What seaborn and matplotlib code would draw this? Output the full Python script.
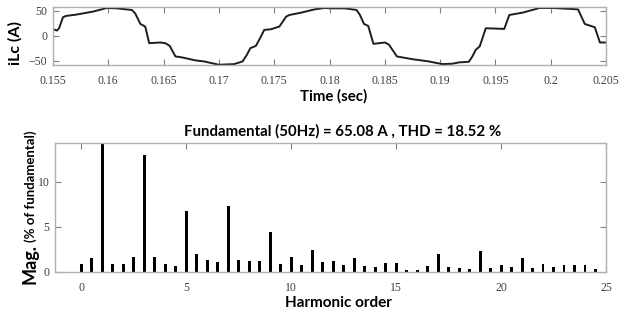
import matplotlib
matplotlib.use("Agg")
import matplotlib.pyplot as plt
import seaborn as sns
import pandas as pd

# ---- data ----
time_ms = [155.0, 155.36, 155.55, 155.9, 156.16, 157.1, 158.6, 159.86, 160.77, 162.13,
           162.43, 162.9, 163.34, 163.7, 164.7, 165.16, 165.55, 166.07, 166.68, 167.9,
           168.65, 170.0, 171.38, 172.14, 172.53, 172.84, 173.35, 173.8, 174.1, 174.7,
           175.47, 176.08, 176.38, 177.45, 178.66, 179.57, 180.18, 181.39, 182.45, 182.75,
           183.12, 183.5, 183.97, 185.03, 185.39, 186.09, 187.46, 188.97, 190.19, 191.1,
           191.7, 192.6, 192.92, 193.22, 193.58, 194.13, 195.8, 196.26, 197.47, 198.99,
           200.2, 202.47, 203.08, 203.99, 204.45, 205.0]
current_A = [13.3, 10.7, 15.3, 37.3, 40.0, 42.7, 48.7, 56.0, 55.3, 52.0,
             45.3, 24.0, 18.7, -14.7, -13.3, -14.7, -20.0, -41.3, -43.3, -49.3,
             -51.3, -58.0, -56.7, -51.3, -38.0, -24.7, -20.0, -1.3, 12.0, 13.3,
             18.7, 38.7, 42.0, 46.7, 53.3, 56.0, 55.3, 55.3, 52.0, 42.0,
             24.0, 20.0, -16.0, -13.3, -18.0, -41.3, -46.7, -51.3, -56.7, -56.0,
             -53.3, -52.0, -41.3, -28.0, -21.3, 15.3, 14.0, 42.0, 46.7, 56.0,
             56.0, 53.3, 24.0, 17.3, -13.3, -13.3]

harmonic_order = [0, 0.5, 1, 1.5, 2, 2.5, 3, 3.5, 4, 4.5, 5, 5.5, 6, 6.5, 7, 7.5, 8, 8.5,
                  9, 9.5, 10, 10.5, 11, 11.5, 12, 12.5, 13, 13.5, 14, 14.5, 15, 15.5, 16,
                  16.5, 17, 17.5, 18, 18.5, 19, 19.5, 20, 20.5, 21, 21.5, 22, 22.5, 23,
                  23.5, 24, 24.5]
magnitude_pct = [0.85, 1.52, 100, 0.93, 0.85, 1.7, 12.96, 1.63, 0.93, 0.67, 6.74, 1.96,
                 1.3, 1.15, 7.33, 1.3, 1.2, 1.19, 4.44, 0.85, 1.67, 0.74, 2.48, 1.07,
                 1.22, 0.74, 1.6, 0.67, 0.56, 0.96, 1.0, 0.26, 0.26, 0.67, 2.04, 0.52,
                 0.44, 0.3, 2.3, 0.41, 0.81, 0.52, 1.56, 0.44, 0.89, 0.59, 0.81, 0.78,
                 0.74, 0.33]

time_ticks = [0.155, 0.16, 0.165, 0.17, 0.175, 0.18, 0.185, 0.19, 0.195, 0.2, 0.205]
time_ticklabels = ["0.155", "0.16", "0.165", "0.17", "0.175", "0.18", "0.185", "0.19",
                   "0.195", "0.2", "0.205"]
cur_ticks = [-50, 0, 50]
order_ticks = [0, 5, 10, 15, 20, 25]
mag_ticks = [0, 5, 10]

title_text = "Fundamental (50Hz) = 65.08 A , THD = 18.52 %"

# ---- style ----
sns.set_theme(style="white")
plt.rcParams["font.family"] = ["Lato", "DejaVu Sans"]

tick_font = dict(family="Liberation Serif", size=8.5)
spine_col = "#b0b0b0"

fig = plt.figure(figsize=(6.31, 3.18), dpi=100)
W, H = 631, 318


def frac_ax(l, t, r, b):
    return fig.add_axes([l / W, 1 - b / H, (r - l) / W, (b - t) / H])


def style_axes(ax, pad):
    for s in ax.spines.values():
        s.set_color(spine_col)
        s.set_linewidth(1.0)
    ax.tick_params(direction="in", length=4, width=0.8, color="#808080",
                   top=True, right=True, bottom=True, left=True,
                   labelcolor="#404040")
    ax.tick_params(axis="x", pad=pad)
    ax.tick_params(axis="y", pad=4)
    for lab in ax.get_xticklabels() + ax.get_yticklabels():
        lab.set_fontfamily(tick_font["family"])
        lab.set_fontsize(tick_font["size"])


# ---- top: current waveform ----
ax1 = frac_ax(53, 7, 606, 65)
df_w = pd.DataFrame({"t": [v / 1000 for v in time_ms], "i": current_A})
sns.lineplot(data=df_w, x="t", y="i", ax=ax1, color="#1e1e1e", linewidth=1.4)
ax1.set_xlim(0.155, 0.205)
ax1.set_ylim(-58.5, 58)
ax1.set_xticks(time_ticks)
ax1.set_xticklabels(time_ticklabels)
ax1.set_yticks(cur_ticks)
ax1.set_xlabel("")
ax1.set_ylabel("")
style_axes(ax1, pad=7)
fig.text(334 / W, 1 - 96 / H, "Time (sec)", ha="center", va="center",
         fontsize=10.8, fontweight="bold", color="black")
fig.text(15 / W, 1 - 43 / H, "iLc (A)", ha="center", va="center", rotation=90,
         fontsize=11.5, fontweight="bold", color="black")

# ---- bottom: harmonic spectrum ----
ax2 = frac_ax(55, 143, 606, 272)
df_h = pd.DataFrame({"order": harmonic_order, "mag": magnitude_pct})
sns.barplot(data=df_h, x="order", y="mag", ax=ax2, native_scale=True,
            color="black", width=0.28, saturation=1, edgecolor="black", linewidth=0)
ax2.set_xlim(-1.25, 25)
ax2.set_ylim(0, 14.3)
ax2.set_xticks(order_ticks)
ax2.set_xticklabels([str(v) for v in order_ticks])
ax2.set_yticks(mag_ticks)
ax2.set_xlabel("")
ax2.set_ylabel("")
style_axes(ax2, pad=7)
fig.text(343 / W, 1 - 131 / H, title_text, ha="center", va="center",
         fontsize=10.8, fontweight="bold", color="black")
fig.text(338 / W, 1 - 303 / H, "Harmonic order", ha="center", va="center",
         fontsize=11, fontweight="bold", color="black")
fig.text(35 / W, 1 - 284 / H, "Mag.", ha="left", va="baseline", rotation=90,
         rotation_mode="anchor", fontsize=13, fontweight="bold", color="black")
fig.text(35 / W, 1 - 242 / H, "(% of fundamental)", ha="left", va="baseline",
         rotation=90, rotation_mode="anchor", fontsize=9.5, fontweight="bold",
         color="black")

fig.savefig("out.png", dpi=100, facecolor="white")
